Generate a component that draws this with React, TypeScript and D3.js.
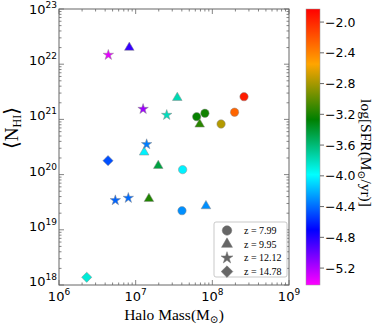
import React from "react";
import * as d3 from "d3";

// halo mass (Msun), mean N_HI (cm^-2), log SFR (Msun/yr), grouped by redshift
const massZ799 = [2.59e8, 1.95e8, 8.0e7, 6.25e7, 1.3e8, 4.1e7, 4.02e7];
const nhiZ799 = [2.58e21, 1.35e21, 1.29e21, 1.12e21, 8.26e20, 1.23e20, 2.22e19];
const sfrZ799 = [-1.95, -2.27, -3.22, -3.25, -2.76, -4.02, -4.3];

const massZ995 = [8.26e6, 3.49e7, 6.84e7, 1.29e7, 1.97e7, 1.49e7, 8.26e7];
const nhiZ995 = [2.0e22, 2.47e21, 8.15e20, 2.54e20, 1.45e20, 3.66e19, 2.7e19];
const sfrZ995 = [-4.85, -3.77, -3.15, -4.02, -3.45, -3.18, -4.3];

const massZ1212 = [4.4e6, 1.25e7, 2.54e7, 1.39e7, 5.43e6, 8.02e6];
const nhiZ1212 = [1.47e22, 1.54e21, 1.2e21, 3.54e20, 3.42e19, 3.77e19];
const sfrZ1212 = [-5.35, -5.15, -3.8, -4.35, -4.42, -4.4];

const massZ1478 = [4.36e6, 2.3e6];
const nhiZ1478 = [1.79e20, 1.38e18];
const sfrZ1478 = [-4.48, -3.87];

const zLabels = ["z = 7.99", "z = 9.95", "z = 12.12", "z = 14.78"];
const cbarTicks = [-2.0, -2.4, -2.8, -3.2, -3.6, -4.0, -4.4, -4.8, -5.2];
const cmapColors = ["#ff00ff", "#0000ff", "#00ffff", "#008000", "#ffa500", "#ff0000"];

const W = 374;
const H = 326;
const left = 59, right = 289, top = 9, bottom = 285;
const cbX = 306, cbW = 14;
const vmin = -5.42, vmax = -1.83;

const sans = "DejaVu Sans, sans-serif";
const serif = "Liberation Serif, DejaVu Serif, serif";

const shapes = [
  { type: d3.symbolCircle, size: 55, rot: 0 },
  { type: d3.symbolTriangle, size: 40, rot: 0 },
  { type: d3.symbolStar, size: 34, rot: 0 },
  { type: d3.symbolSquare, size: 52, rot: 45 },
];

export default function App() {
  const x = d3.scaleLog().domain([1e6, 1e9]).range([left, right]);
  const y = d3.scaleLog().domain([1e18, 1e23]).range([bottom, top]);
  const cy = d3.scaleLinear().domain([vmin, vmax]).range([bottom, top]);
  const color = d3
    .scaleLinear<string>()
    .domain(cmapColors.map((_, i) => vmin + (i / (cmapColors.length - 1)) * (vmax - vmin)))
    .range(cmapColors)
    .interpolate(d3.interpolateRgb);

  const series = [
    { mass: massZ799, nhi: nhiZ799, sfr: sfrZ799 },
    { mass: massZ995, nhi: nhiZ995, sfr: sfrZ995 },
    { mass: massZ1212, nhi: nhiZ1212, sfr: sfrZ1212 },
    { mass: massZ1478, nhi: nhiZ1478, sfr: sfrZ1478 },
  ];

  const xMajor = [6, 7, 8, 9];
  const yMajor = [18, 19, 20, 21, 22, 23];
  const minors = (decs: number[]) => {
    const out: number[] = [];
    decs.slice(0, -1).forEach((d) => {
      for (let k = 2; k <= 9; k++) out.push(k * Math.pow(10, d));
    });
    return out;
  };
  const xMinor = minors(xMajor);
  const yMinor = minors(yMajor);
  const axisCol = "#666";

  return (
    <svg width={W} height={H} style={{ position: "absolute", left: 0, top: 0 }}>
      <defs>
        <linearGradient id="cmap" x1="0" y1="1" x2="0" y2="0">
          {cmapColors.map((c, i) => (
            <stop key={i} offset={i / (cmapColors.length - 1)} stopColor={c} />
          ))}
        </linearGradient>
      </defs>
      <rect x={0} y={0} width={W} height={H} fill="#fff" />

      {/* ticks, inward on all four sides */}
      <g stroke={axisCol} strokeWidth={0.8}>
        {xMajor.map((d) => {
          const px = x(Math.pow(10, d));
          return (
            <g key={"xM" + d}>
              <line x1={px} x2={px} y1={bottom} y2={bottom - 5} />
              <line x1={px} x2={px} y1={top} y2={top + 5} />
            </g>
          );
        })}
        {xMinor.map((v, i) => {
          const px = x(v);
          return (
            <g key={"xm" + i}>
              <line x1={px} x2={px} y1={bottom} y2={bottom - 2.5} />
              <line x1={px} x2={px} y1={top} y2={top + 2.5} />
            </g>
          );
        })}
        {yMajor.map((d) => {
          const py = y(Math.pow(10, d));
          return (
            <g key={"yM" + d}>
              <line x1={left} x2={left + 5} y1={py} y2={py} />
              <line x1={right} x2={right - 5} y1={py} y2={py} />
            </g>
          );
        })}
        {yMinor.map((v, i) => {
          const py = y(v);
          return (
            <g key={"ym" + i}>
              <line x1={left} x2={left + 2.5} y1={py} y2={py} />
              <line x1={right} x2={right - 2.5} y1={py} y2={py} />
            </g>
          );
        })}
      </g>
      <rect x={left} y={top} width={right - left} height={bottom - top} fill="none" stroke={axisCol} strokeWidth={1} />

      {/* tick labels */}
      <g fontFamily={sans} fontSize={13} fill="#000">
        {xMajor.map((d) => (
          <text key={"xl" + d} x={x(Math.pow(10, d))} y={301} textAnchor="middle">
            10<tspan fontSize={9} dy={-6}>{d}</tspan>
          </text>
        ))}
        {yMajor.map((d) => (
          <text key={"yl" + d} x={57} y={Math.max(y(Math.pow(10, d)) + 1, 14)} textAnchor="end">
            10<tspan fontSize={9} dy={-6}>{d}</tspan>
          </text>
        ))}
      </g>

      {/* points */}
      {series.map((s, si) =>
        s.mass.map((m, i) => (
          <path
            key={si + "-" + i}
            d={d3.symbol().type(shapes[si].type).size(shapes[si].size)() as string}
            transform={`translate(${x(m)},${y(s.nhi[i])}) rotate(${shapes[si].rot})`}
            fill={color(s.sfr[i])}
            stroke="#8a8a8a"
            strokeWidth={0.5}
          />
        ))
      )}

      {/* legend */}
      <rect x={214} y={222} width={73} height={55} rx={2} fill="#fff" stroke="#bbb" strokeWidth={0.8} />
      {zLabels.map((lab, i) => {
        const ly = 230.5 + i * 13.7;
        return (
          <g key={lab}>
            <path
              d={d3.symbol().type(shapes[i].type).size(shapes[i].size * 1.3)() as string}
              transform={`translate(227,${ly}) rotate(${shapes[i].rot})`}
              fill="#666"
              stroke="#777"
              strokeWidth={0.5}
            />
            <text x={244} y={ly + 3.5} fontFamily={serif} fontSize={10}>
              {lab}
            </text>
          </g>
        );
      })}

      {/* axis labels */}
      <text x={174} y={320} textAnchor="middle" fontFamily={serif} fontSize={15.5}>
        Halo Mass(M<tspan fontSize={10.5} dy={3}>⊙</tspan>
        <tspan dy={-3}>)</tspan>
      </text>
      <text transform="translate(18,128) rotate(-90)" textAnchor="middle" fontFamily={serif} fontSize={19}>
        <tspan fontFamily="DejaVu Serif, serif" fontSize={20}>⟨</tspan>N<tspan fontSize={12} dy={3}>HI</tspan>
        <tspan dy={-3} fontFamily="DejaVu Serif, serif" fontSize={20}>⟩</tspan>
      </text>

      {/* colorbar */}
      <rect x={cbX} y={top} width={cbW} height={bottom - top} fill="url(#cmap)" stroke="#999" strokeWidth={0.5} />
      <g fontFamily={sans} fontSize={12.5}>
        {cbarTicks.map((t) => (
          <g key={t}>
            <line x1={cbX + cbW} x2={cbX + cbW + 4} y1={cy(t)} y2={cy(t)} stroke="#444" strokeWidth={0.8} />
            <text x={cbX + cbW + 5} y={cy(t) + 4.5}>
              {"\u2212" + Math.abs(t).toFixed(1)}
            </text>
          </g>
        ))}
      </g>
      <text transform="translate(361,153) rotate(90)" textAnchor="middle" fontFamily={serif} fontSize={15.5}>
        log[SFR(M<tspan fontSize={10.5} dy={3}>⊙</tspan>
        <tspan dy={-3}>/yr)]</tspan>
      </text>
    </svg>
  );
}
